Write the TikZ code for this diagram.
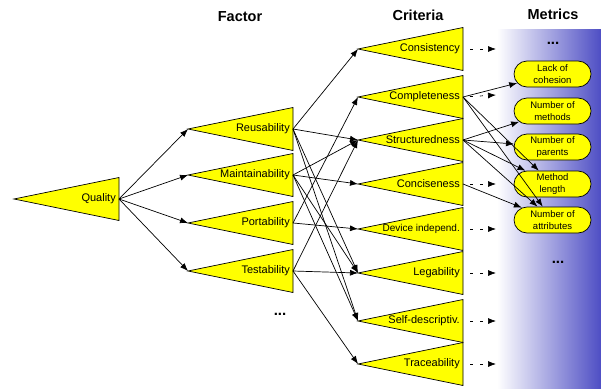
\documentclass[tikz,border=0pt]{standalone}
\usepackage{fontspec}
\setmainfont{Liberation Sans}
\usetikzlibrary{arrows.meta,shapes.misc}
\definecolor{triyellow}{RGB}{255,255,0}
\definecolor{metricblue}{RGB}{78,78,196}
\tikzset{
  trishape/.style={draw=black, line width=0.7pt, fill=triyellow},
  tritext/.style={anchor=east, inner sep=0pt, font=\fontsize{11}{13}\selectfont},
  tri/.pic={
    \path[trishape] (-105,0) -- (0,-21.5) -- (0,21.5) -- cycle;
    \coordinate (-in) at (-105,0);
    \coordinate (-out) at (0,0);
    \node[tritext] (-lbl) at (-3,0) {#1};
  },
  link/.style={draw=black, line width=0.7pt, -{Latex[length=8pt,width=6pt]}},
  dlink/.style={link, dash pattern=on 3pt off 7pt, dash phase=3pt},
  metric/.style={rounded rectangle, draw=black, line width=0.7pt, fill=triyellow,
    minimum width=79pt, minimum height=26pt, inner sep=1pt, align=center,
    font=\fontsize{9.5}{12}\selectfont},
  title/.style={font=\fontsize{14.5}{16}\selectfont\bfseries},
  dots/.style={font=\fontsize{15}{16}\selectfont\bfseries},
}
\begin{document}
\begin{tikzpicture}[x=1pt,y=-1pt]
\useasboundingbox (0,0) rectangle (601,388);
% metrics background
\shade[left color=white, right color=metricblue] (497,29) rectangle (601,388);
% titles
\node[title] (tfac) at (240,17) {Factor};
\node[title] (tcri) at (418,15) {Criteria};
\node[title] (tmet) at (553,14) {Metrics};
% quality
\pic (qual) at (119,199) {tri=Quality};
% factors
\pic (reus) at (293,129) {tri=Reusability};
\pic (main) at (293,175) {tri=Maintainability};
\pic (port) at (293,223) {tri=Portability};
\pic (test) at (293,271) {tri=Testability};
\node[dots] (fdots) at (280,314) {...};
% criteria
\pic (cons) at (463,49) {tri=Consistency};
\pic (comp) at (463,97) {tri=Completeness};
\pic (stru) at (463,140) {tri=Structuredness};
\pic (conc) at (463,184) {tri=Conciseness};
\pic (devi) at (463,229) {tri={\fontsize{10}{12}\selectfont Device independ.}};
\pic (lega) at (463,273) {tri=Legability};
\pic (self) at (463,321) {tri=Self-descriptiv.};
\pic (trac) at (463,364) {tri=Traceability};
% metrics
\node[dots] (mdots1) at (553,43) {...};
\node[metric] (loc) at (552.5,74) {Lack of\\cohesion};
\node[metric] (nom) at (552.5,111) {Number of\\methods};
\node[metric] (nop) at (552.5,147) {Number of\\parents};
\node[metric] (ml)  at (552.5,184) {Method\\length};
\node[metric] (noa) at (552.5,220) {Number of\\attributes};
\node[dots] (mdots2) at (558,262) {...};
% quality -> factors
\draw[link] (qual-out) -- (reus-in);
\draw[link] (qual-out) -- (main-in);
\draw[link] (qual-out) -- (port-in);
\draw[link] (qual-out) -- (test-in);
% factors -> criteria
\draw[link] (reus-out) -- (cons-in);
\draw[link] (reus-out) -- (stru-in);
\draw[link] (reus-out) -- (lega-in);
\draw[link] (reus-out) -- (self-in);
\draw[link] (main-out) -- (stru-in);
\draw[link] (main-out) -- (conc-in);
\draw[link] (main-out) -- (lega-in);
\draw[link] (main-out) -- (self-in);
\draw[link] (port-out) -- (comp-in);
\draw[link] (port-out) -- (devi-in);
\draw[link] (test-out) -- (stru-in);
\draw[link] (test-out) -- (lega-in);
\draw[link] (test-out) -- (trac-in);
% criteria -> metrics
\draw[link] (comp-out) -- (loc);
\draw[link] (comp-out) -- (ml);
\draw[link] (comp-out) -- (noa);
\draw[link] (stru-out) -- (nom);
\draw[link] (stru-out) -- (nop);
\draw[link] (stru-out) -- (ml);
\draw[link] (stru-out) -- (noa);
\draw[link] (conc-out) -- (noa);
% dashed arrows
\coordinate (cons-end) at (496,49);
\coordinate (comp-end) at (496,95);
\coordinate (conc-end) at (496,184);
\coordinate (devi-end) at (496,229);
\coordinate (lega-end) at (496,273);
\coordinate (self-end) at (496,321);
\coordinate (trac-end) at (496,364);
\draw[dlink] (cons-out) -- (cons-end);
\draw[dlink] (comp-out) -- (comp-end);
\draw[dlink] (conc-out) -- (conc-end);
\draw[dlink] (devi-out) -- (devi-end);
\draw[dlink] (lega-out) -- (lega-end);
\draw[dlink] (self-out) -- (self-end);
\draw[dlink] (trac-out) -- (trac-end);
\end{tikzpicture}
\end{document}
